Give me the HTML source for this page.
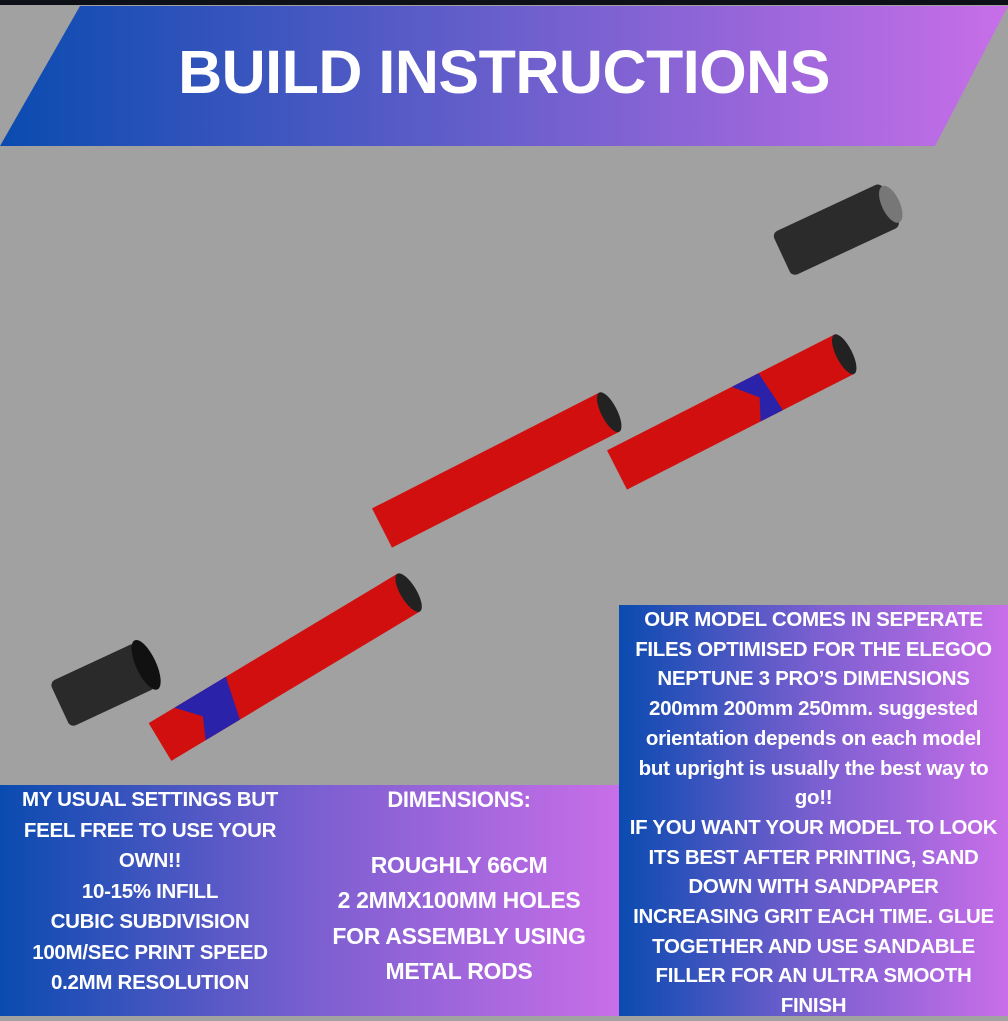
<!DOCTYPE html>
<html><head><meta charset="utf-8"><style>
body{margin:0;width:1008px;height:1016px;overflow:hidden;background:#a1a1a1;position:relative;font-family:"Liberation Sans",sans-serif;}
.t{position:absolute;color:#fff;font-weight:bold;text-align:center;font-size:20.5px;line-height:30.5px;letter-spacing:-0.3px;white-space:nowrap;}
</style></head><body>
<div style="position:absolute;left:0;top:0;width:1008px;height:5px;background:#0d1117"></div>
<svg width="1008" height="1016" style="position:absolute;left:0;top:0">
<defs>
<linearGradient id="g" x1="0" x2="1"><stop offset="0" stop-color="#0a4bb0"/><stop offset="0.5" stop-color="#6a5fcc"/><stop offset="1" stop-color="#c86ee8"/></linearGradient>
<linearGradient id="g2" x1="0" x2="1"><stop offset="0" stop-color="#0a4bb0"/><stop offset="0.5" stop-color="#7a5fd0"/><stop offset="1" stop-color="#c86ee8"/></linearGradient>
</defs>
<polygon points="80,6 1008,6 935,146 0,146" fill="url(#g)"/>
<rect x="0" y="785" width="619" height="231" fill="url(#g2)"/>
<rect x="619" y="605" width="389" height="411" fill="url(#g2)"/>
<g transform="translate(160,742) rotate(-31)">
<rect x="0" y="-22" width="290" height="44" fill="#d20f0f"/>
<ellipse cx="290" cy="0" rx="8" ry="22" fill="#222"/>
<polygon points="30,-22 90,-22 80,22 40,22 50,0" fill="#2a22a8"/>
</g>
<g transform="translate(382,528) rotate(-27)">
<rect x="0" y="-22" width="255" height="44" fill="#d20f0f"/>
<ellipse cx="255" cy="0" rx="8" ry="22" fill="#222"/>
</g>
<g transform="translate(617,470) rotate(-27)">
<rect x="0" y="-22" width="255" height="44" fill="#d20f0f"/>
<ellipse cx="255" cy="0" rx="8" ry="22" fill="#222"/>
<polygon points="140,-22 170,-22 175,22 150,22 160,0" fill="#2a22a8"/>
</g>
<g transform="translate(60,705) rotate(-25)">
<rect x="0" y="-25" width="95" height="50" rx="6" fill="#2a2a2a"/>
<ellipse cx="95" cy="0" rx="10" ry="27" fill="#111"/>
</g>
<g transform="translate(782,255) rotate(-25)">
<rect x="0" y="-24" width="120" height="48" rx="6" fill="#2b2b2b"/>
<ellipse cx="120" cy="0" rx="9" ry="20" fill="#777"/>
</g>
</svg>
<div style="position:absolute;left:0;top:37px;width:1008px;text-align:center;color:#fff;font-weight:bold;font-size:61px;letter-spacing:-0.5px;line-height:70px;">BUILD INSTRUCTIONS</div>
<div class="t" style="left:0;top:785px;width:300px;">MY USUAL SETTINGS BUT<br>FEEL FREE TO USE YOUR<br>OWN!!<br>10-15% INFILL<br>CUBIC SUBDIVISION<br>100M/SEC PRINT SPEED<br>0.2MM RESOLUTION</div>
<div class="t" style="left:300px;top:783px;width:318px;font-size:22px;line-height:34px;">DIMENSIONS:</div>
<div class="t" style="left:300px;top:848px;width:318px;font-size:23px;line-height:35.3px;">ROUGHLY 66CM<br>2 2MMX100MM HOLES<br>FOR ASSEMBLY USING<br>METAL RODS</div>
<div class="t" style="left:619px;top:605px;width:389px;line-height:29.7px;">OUR MODEL COMES IN SEPERATE<br>FILES OPTIMISED FOR THE ELEGOO<br>NEPTUNE 3 PRO’S DIMENSIONS<br>200mm 200mm 250mm. suggested<br>orientation depends on each model<br>but upright is usually the best way to<br>go!!<br>IF YOU WANT YOUR MODEL TO LOOK<br>ITS BEST AFTER PRINTING, SAND<br>DOWN WITH SANDPAPER<br>INCREASING GRIT EACH TIME. GLUE<br>TOGETHER AND USE SANDABLE<br>FILLER FOR AN ULTRA SMOOTH<br>FINISH</div>
</body></html>
